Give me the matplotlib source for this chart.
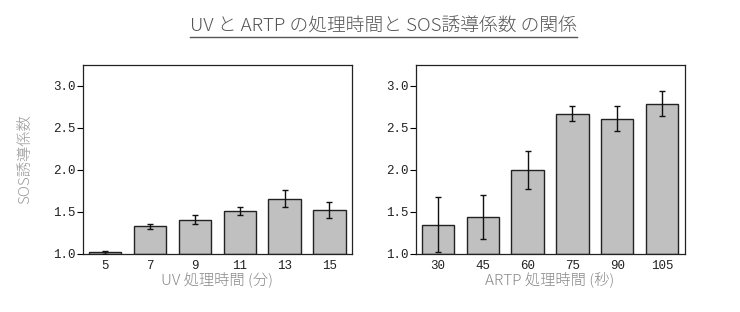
import numpy as np
import matplotlib.pyplot as plt
from matplotlib.lines import Line2D

# data
uv_times = ['5', '7', '9', '11', '13', '15']
uv_sos = [1.02, 1.33, 1.41, 1.51, 1.66, 1.52]
uv_err = [0.02, 0.03, 0.05, 0.05, 0.10, 0.095]

artp_times = ['30', '45', '60', '75', '90', '105']
artp_sos = [1.35, 1.44, 2.00, 2.67, 2.61, 2.79]
artp_err = [0.33, 0.26, 0.23, 0.09, 0.145, 0.15]

cjk = ['Noto Sans CJK JP', 'DejaVu Sans']
plt.rcParams['font.family'] = cjk

fig = plt.figure(figsize=(7.4, 3.12), dpi=100)
ax1 = fig.add_axes([0.112, 0.186, 0.3635, 0.606])
ax2 = fig.add_axes([0.5615, 0.186, 0.3635, 0.606])


def draw(ax, labels, vals, errs, xlabel):
    x = np.arange(len(labels))
    ax.bar(x, np.array(vals) - 1.0, bottom=1.0, width=0.72, color='#c0c0c0',
           edgecolor='#222222', linewidth=1.0, zorder=2)
    ax.errorbar(x, vals, yerr=errs, fmt='none', ecolor='#111111',
                elinewidth=1.0, capsize=2.5, capthick=1.0, zorder=3)
    ax.set_xlim(-0.5, len(labels) - 0.5)
    ax.set_ylim(1.0, 3.25)
    ax.set_yticks([1.0, 1.5, 2.0, 2.5, 3.0])
    ax.set_yticklabels(['1.0', '1.5', '2.0', '2.5', '3.0'])
    ax.set_xticks(x)
    ax.set_xticklabels(labels)
    for lab in ax.get_xticklabels() + ax.get_yticklabels():
        lab.set_fontfamily('Liberation Mono')
        lab.set_fontsize(9)
        lab.set_color('#222222')
    ax.tick_params(axis='y', length=4, width=0.8, pad=1)
    ax.tick_params(axis='x', length=0, pad=4)
    for s in ax.spines.values():
        s.set_linewidth(0.9)
        s.set_color('#222222')
    ax.set_xlabel(xlabel, fontsize=11, color='#888888', labelpad=0,
                  fontweight='light')


draw(ax1, uv_times, uv_sos, uv_err, 'UV 処理時間 (分)')
draw(ax2, artp_times, artp_sos, artp_err, 'ARTP 処理時間 (秒)')
ax1.set_ylabel('SOS誘導係数', fontsize=11, color='#999999', labelpad=15,
               fontweight='light')

title = fig.text(0.518, 0.915, 'UV と ARTP の処理時間と SOS誘導係数 の関係',
                 ha='center', va='center', fontsize=13.5, color='#555555',
                 fontweight='light')

# underline the title
fig.canvas.draw()
bb = title.get_window_extent().transformed(fig.transFigure.inverted())
fig.add_artist(Line2D([bb.x0, bb.x1], [bb.y0 - 0.004, bb.y0 - 0.004],
                      color='#555555', linewidth=1.0, transform=fig.transFigure))

fig.savefig('out.png', dpi=100)
